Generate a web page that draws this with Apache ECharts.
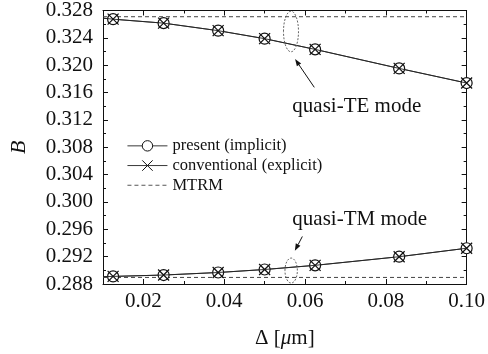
<!DOCTYPE html>
<html>
<head>
<meta charset="utf-8">
<script src="https://cdn.jsdelivr.net/npm/echarts@6/dist/echarts.min.js"></script>
<style>
  html, body { margin: 0; padding: 0; background: #fff; }
  #chart { width: 488px; height: 354px; }
</style>
</head>
<body>
<div id="chart"></div>
<script>
// Waveguide offset Δ [µm]
const delta = [0.0125, 0.025, 0.0385, 0.05, 0.0625, 0.0833, 0.1];

// Normalised propagation constant B
const presentTE = [0.32673, 0.32615, 0.32505, 0.32388, 0.32231, 0.31953, 0.31739];
const conventionalTE = [0.32673, 0.32615, 0.32505, 0.32388, 0.32231, 0.31953, 0.31739];
const presentTM = [0.28911, 0.28931, 0.28968, 0.29012, 0.29073, 0.29199, 0.29323];
const conventionalTM = [0.28911, 0.28931, 0.28968, 0.29012, 0.29073, 0.29199, 0.29323];

// Solid curve continues back to the axis edge
const curveStartX = 0.01;
const curveStartTE = 0.32688;
const curveStartTM = 0.28907;

// MTRM reference values
const mtrmTE = 0.32709;
const mtrmTM = 0.28896;

// Axis ticks
const xRange = [0.01, 0.10];
const xMajorTicks = [0.02, 0.04, 0.06, 0.08, 0.10];
const yRange = [0.288, 0.328];
const yStep = 0.004;

const FONT = '"Liberation Serif", "Times New Roman", serif';
const INK = '#111';

const pairs = (xs, ys) => xs.map((x, i) => [x, ys[i]]);
// Outline symbols: a ring and a diagonal cross, stroked with the border style
const RING = 'path://M10,5A5,5 0 1,1 0,5A5,5 0 1,1 10,5Z';
const CROSS = 'path://M0,0L10,10M10,0L0,10';

function solidSeries(name, ys, start, symbol) {
  const data = [{ value: [curveStartX, start], symbol: 'none' }].concat(pairs(delta, ys));
  const isRing = symbol === RING;
  return {
    name, type: 'line', data,
    symbol, symbolSize: 11, showAllSymbol: true,
    clip: false, animation: false,
    z: isRing ? 3 : 4,
    lineStyle: { color: '#222', width: 0.9 },
    itemStyle: { color: isRing ? '#fff' : 'rgba(0,0,0,0)', borderColor: INK, borderWidth: 1.2 },
    emphasis: { disabled: true }
  };
}

function mtrmSeries(v) {
  return {
    name: 'MTRM', type: 'line', data: [[xRange[0], v], [xRange[1], v]],
    symbol: 'circle', showSymbol: false, animation: false, z: 1,
    itemStyle: { color: 'rgba(0,0,0,0)', borderWidth: 0 },
    lineStyle: { color: '#444', width: 1, type: [4, 3] },
    emphasis: { disabled: true }
  };
}

const hiddenLabel = { show: false };
function xAxisPair(position) {
  return [
    {
      type: 'value', position, min: xRange[0], max: xRange[1],
      axisLine: { show: true, lineStyle: { color: INK, width: 1 } },
      axisTick: { show: true, inside: true, length: 5, customValues: xMajorTicks, lineStyle: { color: INK } },
      axisLabel: position === 'bottom'
        ? { show: true, customValues: xMajorTicks, formatter: v => v.toFixed(2), color: INK, fontFamily: FONT, fontSize: 21, margin: 7 }
        : hiddenLabel,
      splitLine: { show: false },
      name: position === 'bottom' ? '{n|Δ [}{i|μ}{n|m]}' : '',
      nameLocation: 'middle', nameGap: 44,
      nameTextStyle: { rich: {
        n: { fontFamily: FONT, fontSize: 21, color: INK },
        i: { fontFamily: FONT, fontSize: 21, color: INK, fontStyle: 'italic' }
      } }
    },
    {
      type: 'value', position, min: xRange[0], max: xRange[1], interval: 0.01,
      axisLine: { show: false },
      axisTick: { show: true, inside: true, length: 3, lineStyle: { color: INK } },
      axisLabel: hiddenLabel,
      splitLine: { show: false }
    }
  ];
}

function yAxis(position) {
  return {
    type: 'value', position, min: yRange[0], max: yRange[1], interval: yStep,
    axisLine: { show: true, lineStyle: { color: INK, width: 1 } },
    axisTick: { show: true, inside: true, length: 5, lineStyle: { color: INK } },
    minorTick: { show: true, splitNumber: 2, length: 3, lineStyle: { color: INK } },
    axisLabel: position === 'left'
      ? { show: true, formatter: v => v.toFixed(3), color: INK, fontFamily: FONT, fontSize: 21, margin: 10 }
      : hiddenLabel,
    splitLine: { show: false },
    name: position === 'left' ? 'B' : '',
    nameLocation: 'middle', nameGap: 73, nameRotate: 90,
    nameTextStyle: { fontFamily: FONT, fontSize: 22, fontStyle: 'italic', color: INK }
  };
}

const chart = echarts.init(document.getElementById('chart'), null, { renderer: 'canvas' });

chart.setOption({
  animation: false,
  backgroundColor: '#fff',
  grid: { left: 96, right: 18, top: 10, bottom: 70, containLabel: false },
  xAxis: xAxisPair('bottom').concat(xAxisPair('top')),
  yAxis: [yAxis('left'), yAxis('right')],
  legend: {
    orient: 'vertical', left: 127, top: 136, padding: 0,
    itemWidth: 40, itemHeight: 13, itemGap: 0,
    data: ['present (implicit)', 'conventional (explicit)', 'MTRM'],
    lineStyle: { width: 0.9 },
    itemStyle: { borderWidth: 1 },
    textStyle: { fontFamily: FONT, fontSize: 16.5, color: INK, lineHeight: 19.7 },
    selectedMode: false
  },
  series: [
    mtrmSeries(mtrmTE),
    mtrmSeries(mtrmTM),
    solidSeries('present (implicit)', presentTE, curveStartTE, RING),
    solidSeries('present (implicit)', presentTM, curveStartTM, RING),
    solidSeries('conventional (explicit)', conventionalTE, curveStartTE, CROSS),
    solidSeries('conventional (explicit)', conventionalTM, curveStartTM, CROSS)
  ]
});

// Mode annotations: dashed ellipses, arrows and captions, anchored in data space
const toPx = p => chart.convertToPixel({ gridIndex: 0 }, p);
const notes = [
  { ellipse: [0.05653, 0.32493], rx: 7.5, ry: 20.3, tail: [0.0623, 0.31676], tip: [0.05754, 0.32089], text: 'quasi-TE mode', at: [0.05686, 0.31393] },
  { ellipse: [0.05657, 0.28997], rx: 6.2, ry: 12.5, tail: [0.05934, 0.29495], tip: [0.05749, 0.29286], text: 'quasi-TM mode', at: [0.05686, 0.29749] }
];

const graphics = [];
notes.forEach(n => {
  const c = toPx(n.ellipse), a = toPx(n.tail), b = toPx(n.tip), t = toPx(n.at);
  graphics.push({
    type: 'ellipse', shape: { cx: c[0], cy: c[1], rx: n.rx, ry: n.ry },
    style: { fill: 'none', stroke: '#555', lineWidth: 0.9, lineDash: [2, 1.5] }, z: 20
  });
  const dx = b[0] - a[0], dy = b[1] - a[1], len = Math.hypot(dx, dy);
  const ux = dx / len, uy = dy / len, head = 7, half = 2.6;
  const bx = b[0] - ux * head, by = b[1] - uy * head;
  graphics.push({
    type: 'line', shape: { x1: a[0], y1: a[1], x2: bx, y2: by },
    style: { stroke: INK, lineWidth: 1 }, z: 20
  });
  graphics.push({
    type: 'polygon',
    shape: { points: [[b[0], b[1]], [bx - uy * half, by + ux * half], [bx + uy * half, by - ux * half]] },
    style: { fill: INK }, z: 20
  });
  graphics.push({
    type: 'text', x: t[0], y: t[1],
    style: { text: n.text, fontFamily: FONT, fontSize: 21, fill: INK, textAlign: 'left', textVerticalAlign: 'middle' }, z: 20
  });
});
chart.setOption({ graphic: graphics });
</script>
</body>
</html>
